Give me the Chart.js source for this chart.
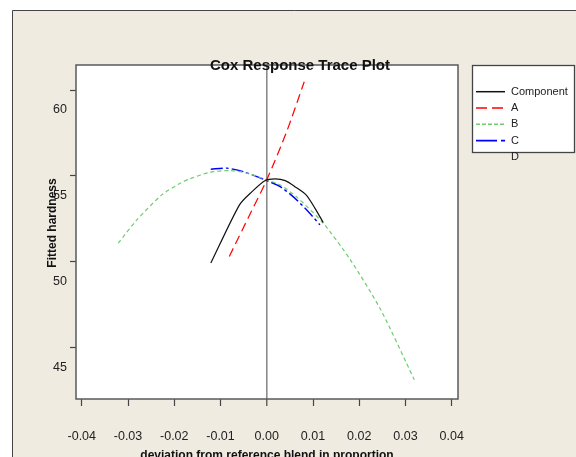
<!DOCTYPE html>
<html lang="en">
<head>
    <meta charset="UTF-8">
    <title>Cox Response Trace Plot</title>
    <script src="https://cdn.jsdelivr.net/npm/chart.js"></script>
    <style>
        body { margin: 0; background: #fff; }
        #wrap { width: 576px; height: 457px; }
    </style>
</head>
<body>
<div id="wrap"><canvas id="coxChart" width="576" height="457"></canvas></div>
<script>
    // legend entries (D has no trace drawn in the original)
    const seriesNames = ['Component', 'A', 'B', 'C', 'D'];

    // traces: deviation vs fitted hardness
    const compX = [-0.0121, -0.0059, -0.0032, -0.0004, 0.0018, 0.0040, 0.0061, 0.0085, 0.0104, 0.0122];
    const compY = [49.90, 53.30, 54.07, 54.71, 54.81, 54.71, 54.36, 53.88, 53.11, 52.27];

    const aX = [-0.0081, -0.0040, 0.0000, 0.0043, 0.0081];
    const aY = [50.29, 52.55, 54.76, 57.57, 60.48];

    const bX = [-0.0321, -0.0281, -0.0227, -0.0187, -0.0166, -0.0123, -0.0079, -0.0043, 0.0000, 0.0029, 0.0065, 0.0122, 0.0180, 0.0245, 0.0319];
    const bY = [51.07, 52.42, 53.88, 54.56, 54.82, 55.20, 55.30, 55.15, 54.76, 54.46, 53.75, 52.23, 50.12, 47.25, 43.10];

    const cX = [-0.0121, -0.0086, -0.0051, 0.0000, 0.0029, 0.0057, 0.0086, 0.0115];
    const cY = [55.38, 55.44, 55.24, 54.71, 54.36, 53.78, 53.01, 52.13];

    const xTicks = [-0.04, -0.03, -0.02, -0.01, 0, 0.01, 0.02, 0.03, 0.04];
    const yTicks = [45, 50, 55, 60];

    const FONT = 'Arial, "Liberation Sans", Helvetica, sans-serif';
    const BEIGE = '#efebe1';

    function pts(xs, ys) {
        return xs.map((x, i) => ({ x: x, y: ys[i] }));
    }

    // frame, plot box, titles and legend in the Minitab look
    const decor = {
        id: 'decor',
        beforeDraw(chart) {
            const ctx = chart.ctx, a = chart.chartArea;
            ctx.save();
            ctx.fillStyle = '#fff';
            ctx.fillRect(0, 0, chart.width, chart.height);
            ctx.fillStyle = BEIGE;
            ctx.fillRect(12.5, 10.5, chart.width, chart.height);
            ctx.strokeStyle = '#444';
            ctx.lineWidth = 1;
            ctx.beginPath();
            ctx.moveTo(12.5, chart.height);
            ctx.lineTo(12.5, 10.5);
            ctx.lineTo(chart.width, 10.5);
            ctx.stroke();
            ctx.fillStyle = '#fff';
            ctx.fillRect(a.left, a.top, a.right - a.left, a.bottom - a.top);
            ctx.restore();
        },
        afterDraw(chart) {
            const ctx = chart.ctx, a = chart.chartArea;
            ctx.save();
            ctx.strokeStyle = '#5a5a5a';
            ctx.lineWidth = 1.5;
            ctx.strokeRect(a.left, a.top, a.right - a.left, a.bottom - a.top);

            ctx.fillStyle = '#111';
            ctx.textAlign = 'center';
            ctx.textBaseline = 'middle';
            ctx.font = 'bold 15px ' + FONT;
            ctx.fillText('Cox Response Trace Plot', 300, 66);

            ctx.save();
            ctx.translate(53, 223);
            ctx.rotate(-Math.PI / 2);
            ctx.font = 'bold 12px ' + FONT;
            ctx.fillText('Fitted hardness', 0, 0);
            ctx.restore();

            // legend box
            ctx.fillStyle = '#fff';
            ctx.fillRect(472.5, 65.5, 102, 87);
            ctx.strokeStyle = '#444';
            ctx.lineWidth = 1.3;
            ctx.strokeRect(472.5, 65.5, 102, 87);

            ctx.font = '11px ' + FONT;
            ctx.textAlign = 'left';
            seriesNames.forEach((name, i) => {
                const y = 91.7 + i * 16.3;
                const ds = chart.data.datasets[i];
                if (ds && ds.data.length) {
                    ctx.strokeStyle = ds.borderColor;
                    ctx.lineWidth = ds.borderWidth + 0.3;
                    ctx.setLineDash(ds.legendDash || []);
                    ctx.beginPath();
                    ctx.moveTo(476, y);
                    ctx.lineTo(505, y);
                    ctx.stroke();
                    ctx.setLineDash([]);
                }
                ctx.fillStyle = '#222';
                ctx.fillText(name, 511, y);
            });
            ctx.restore();
        }
    };

    const data = {
        datasets: [
            {
                label: seriesNames[0],
                data: pts(compX, compY),
                borderColor: '#111',
                borderWidth: 1.2,
                legendDash: []
            },
            {
                label: seriesNames[1],
                data: pts(aX, aY),
                borderColor: '#ff0000',
                borderWidth: 1.2,
                borderDash: [9, 5],
                legendDash: [11, 5]
            },
            {
                label: seriesNames[2],
                data: pts(bX, bY),
                borderColor: '#6fcc6f',
                borderWidth: 1.2,
                borderDash: [4, 3],
                legendDash: [4, 2]
            },
            {
                label: seriesNames[3],
                data: pts(cX, cY),
                borderColor: '#0000ff',
                borderWidth: 1.4,
                borderDash: [12, 3, 3, 3],
                legendDash: [21, 4, 5, 4]
            },
            {
                label: seriesNames[4],
                data: [],
                borderColor: '#000',
                borderWidth: 0
            }
        ]
    };

    const config = {
        type: 'line',
        data: data,
        options: {
            responsive: false,
            animation: false,
            layout: {
                padding: { left: 0, top: 65, right: 118, bottom: 0 }
            },
            elements: {
                point: { radius: 0 },
                line: { tension: 0.25, fill: false }
            },
            plugins: {
                legend: { display: false },
                title: { display: false },
                tooltip: { enabled: false }
            },
            scales: {
                x: {
                    type: 'linear',
                    min: -0.04125,
                    max: 0.04135,
                    border: { display: false },
                    afterBuildTicks: s => { s.ticks = xTicks.map(v => ({ value: v })); },
                    afterFit: s => { s.height = 58; s.paddingLeft = 0; s.paddingRight = 0; },
                    grid: {
                        drawOnChartArea: true,
                        color: c => (c.tick && c.tick.value === 0 ? '#8c8c8c' : 'rgba(0,0,0,0)'),
                        lineWidth: c => (c.tick && c.tick.value === 0 ? 1.6 : 1),
                        tickColor: '#444',
                        tickWidth: 1.2,
                        tickLength: 7
                    },
                    ticks: {
                        autoSkip: false,
                        maxRotation: 0,
                        minRotation: 0,
                        padding: 23,
                        color: '#222',
                        font: { family: FONT, size: 12.5 },
                        callback: v => v.toFixed(2)
                    },
                    title: {
                        display: true,
                        text: 'deviation from reference blend in proportion',
                        color: '#111',
                        font: { family: FONT, size: 12, weight: 'bold' },
                        padding: { top: 0, bottom: -6 }
                    }
                },
                y: {
                    type: 'linear',
                    min: 41.97,
                    max: 61.46,
                    border: { display: false },
                    afterBuildTicks: s => { s.ticks = yTicks.map(v => ({ value: v })); },
                    afterFit: s => { s.width = 76; s.paddingTop = 0; s.paddingBottom = 0; },
                    grid: {
                        drawOnChartArea: false,
                        tickColor: '#444',
                        tickWidth: 1.2,
                        tickLength: 6
                    },
                    ticks: {
                        padding: 3,
                        labelOffset: 20,
                        color: '#222',
                        font: { family: FONT, size: 12.5 }
                    }
                }
            }
        },
        plugins: [decor]
    };

    const coxChart = new Chart(document.getElementById('coxChart'), config);
</script>
</body>
</html>
